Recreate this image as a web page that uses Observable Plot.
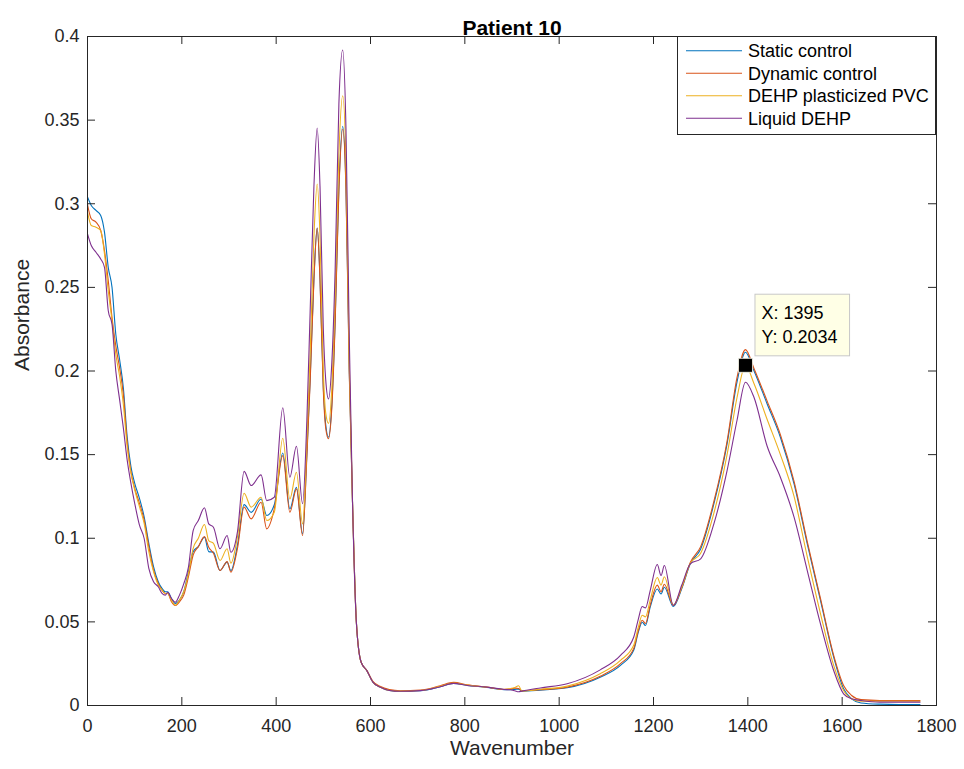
<!DOCTYPE html>
<html>
<head>
<meta charset="utf-8">
<script src="https://cdn.jsdelivr.net/npm/d3@7"></script>
<script src="https://cdn.jsdelivr.net/npm/@observablehq/plot@0.6"></script>
<style>
  body { margin: 0; background: #fff; }
  #wrap { position: relative; width: 964px; height: 769px; }
</style>
</head>
<body>
<div id="wrap"></div>
<script>
const FONT = '"Liberation Sans", Arial, Helvetica, sans-serif';

const title = "Patient 10";
const xLabel = "Wavenumber";
const yLabel = "Absorbance";
const seriesNames = ["Static control", "Dynamic control", "DEHP plasticized PVC", "Liquid DEHP"];
const seriesColors = ["#0072BD", "#D95319", "#EDB120", "#7E2F8E"];
const xTicks = [0, 200, 400, 600, 800, 1000, 1200, 1400, 1600, 1800];
const yTicks = [0, 0.05, 0.1, 0.15, 0.2, 0.25, 0.3, 0.35, 0.4];
const tipX = [1395];
const tipY = [0.2034];

const wavenumber = [0, 8, 18, 28, 36, 44, 52, 60, 68, 76,
  84, 92, 100, 110, 120, 130, 140, 150, 158, 165,
  170, 178, 186, 195, 204, 214, 224, 235, 248, 257,
  267, 281, 296, 304, 318, 332, 347, 368, 380, 396,
  414, 429, 443, 456, 465, 472, 480, 487, 493, 500,
  505, 511, 518, 525, 533, 541, 548, 555, 562, 570,
  580, 592, 605, 620, 640, 663, 706, 748, 776, 805,
  847, 883, 897, 906, 914, 921, 960, 1017, 1087, 1130,
  1158, 1168, 1176, 1183, 1193, 1208, 1216, 1223, 1242, 1260,
  1278, 1300, 1328, 1356, 1377, 1395, 1413, 1441, 1469, 1498,
  1526, 1554, 1582, 1603, 1620, 1640, 1680, 1720, 1765];

const staticControl = [0.304, 0.299, 0.296, 0.293, 0.283, 0.262, 0.250, 0.222, 0.207, 0.190,
  0.161, 0.143, 0.133, 0.124, 0.113, 0.097, 0.083, 0.074, 0.070, 0.068,
  0.068, 0.064, 0.061, 0.063, 0.068, 0.080, 0.092, 0.095, 0.1006, 0.092,
  0.0917, 0.0807, 0.0857, 0.0807, 0.096, 0.1201, 0.1155, 0.1235, 0.1136, 0.120,
  0.151, 0.1176, 0.1305, 0.1026, 0.150, 0.195, 0.255, 0.2855, 0.255, 0.19,
  0.168, 0.1604, 0.18, 0.23, 0.31, 0.3463, 0.31, 0.20, 0.12, 0.05,
  0.026, 0.021, 0.014, 0.011, 0.009, 0.0085, 0.0088, 0.0112, 0.0132, 0.012,
  0.0108, 0.0095, 0.0094, 0.0096, 0.0098, 0.0086, 0.0092, 0.0106, 0.0169, 0.024,
  0.033, 0.044, 0.0498, 0.0478, 0.0588, 0.0697, 0.0667, 0.0707, 0.0592, 0.070,
  0.0847, 0.0936, 0.1205, 0.1564, 0.1933, 0.2112, 0.2002, 0.1803, 0.1604, 0.1325,
  0.0967, 0.0628, 0.0289, 0.010, 0.004, 0.0015, 0.0008, 0.0006, 0.0006];

const dynamicControl = [0.2995, 0.291, 0.289, 0.284, 0.272, 0.254, 0.232, 0.215, 0.202, 0.186,
  0.158, 0.140, 0.130, 0.121, 0.111, 0.095, 0.081, 0.073, 0.069, 0.067,
  0.067, 0.062, 0.0598, 0.062, 0.066, 0.077, 0.090, 0.095, 0.101, 0.0946,
  0.091, 0.0807, 0.086, 0.0797, 0.094, 0.1186, 0.1116, 0.1215, 0.1056, 0.1175,
  0.1494, 0.1156, 0.1295, 0.1016, 0.148, 0.193, 0.254, 0.2855, 0.254, 0.188,
  0.166, 0.1595, 0.178, 0.228, 0.308, 0.3447, 0.308, 0.198, 0.12, 0.05,
  0.026, 0.021, 0.0145, 0.0115, 0.0095, 0.0088, 0.0092, 0.0118, 0.0138, 0.0124,
  0.011, 0.0097, 0.0098, 0.0104, 0.0102, 0.0088, 0.0094, 0.011, 0.0175, 0.025,
  0.034, 0.045, 0.051, 0.049, 0.060, 0.072, 0.068, 0.0725, 0.0598, 0.0705,
  0.0855, 0.095, 0.122, 0.158, 0.196, 0.2128, 0.2015, 0.182, 0.162, 0.134,
  0.098, 0.064, 0.030, 0.012, 0.006, 0.0035, 0.003, 0.003, 0.003];

const dehpPVC = [0.295, 0.287, 0.286, 0.284, 0.270, 0.248, 0.230, 0.210, 0.197, 0.180,
  0.155, 0.139, 0.129, 0.119, 0.109, 0.092, 0.080, 0.072, 0.069, 0.067,
  0.067, 0.063, 0.060, 0.063, 0.068, 0.079, 0.094, 0.100, 0.1082, 0.0986,
  0.097, 0.0867, 0.0937, 0.0851, 0.101, 0.1269, 0.1186, 0.1245, 0.1106, 0.1156,
  0.1598, 0.1235, 0.1395, 0.1086, 0.158, 0.21, 0.28, 0.3118, 0.28, 0.20,
  0.175, 0.1687, 0.19, 0.245, 0.33, 0.3646, 0.325, 0.205, 0.12, 0.05,
  0.026, 0.021, 0.014, 0.011, 0.009, 0.0086, 0.009, 0.0115, 0.0134, 0.0122,
  0.0109, 0.0096, 0.0102, 0.0108, 0.0118, 0.0087, 0.0097, 0.0116, 0.019, 0.027,
  0.036, 0.047, 0.054, 0.053, 0.063, 0.0765, 0.072, 0.077, 0.060, 0.071,
  0.085, 0.091, 0.115, 0.150, 0.184, 0.2034, 0.1925, 0.171, 0.150, 0.125,
  0.089, 0.055, 0.024, 0.009, 0.004, 0.0025, 0.0025, 0.0025, 0.0025];

const liquidDEHP = [0.282, 0.275, 0.271, 0.267, 0.262, 0.236, 0.228, 0.200, 0.183, 0.166,
  0.147, 0.133, 0.121, 0.108, 0.100, 0.082, 0.074, 0.071, 0.067, 0.066,
  0.0677, 0.064, 0.0617, 0.066, 0.0727, 0.0827, 0.1046, 0.1106, 0.1182, 0.1086,
  0.1066, 0.0937, 0.1016, 0.0916, 0.104, 0.140, 0.1315, 0.1379, 0.1225, 0.1245,
  0.178, 0.1365, 0.155, 0.1206, 0.17, 0.235, 0.31, 0.3453, 0.31, 0.225,
  0.195, 0.1833, 0.205, 0.26, 0.36, 0.3919, 0.345, 0.22, 0.12, 0.05,
  0.026, 0.021, 0.014, 0.011, 0.009, 0.0085, 0.0089, 0.0112, 0.0132, 0.012,
  0.011, 0.0096, 0.0094, 0.0088, 0.0082, 0.0086, 0.0105, 0.013, 0.0213, 0.030,
  0.0408, 0.0518, 0.0592, 0.0584, 0.0687, 0.0843, 0.0777, 0.0837, 0.0598, 0.072,
  0.0847, 0.0877, 0.1086, 0.1405, 0.1704, 0.1933, 0.1843, 0.155, 0.1365, 0.1126,
  0.0807, 0.0488, 0.0209, 0.007, 0.004, 0.003, 0.002, 0.002, 0.002];

const seriesValues = [staticControl, dynamicControl, dehpPVC, liquidDEHP];
const rows = [];
seriesNames.forEach((name, s) => {
  wavenumber.forEach((x, i) => rows.push({series: name, wavenumber: x, absorbance: seriesValues[s][i]}));
});
const tipData = tipX.map((x, i) => ({x, y: tipY[i]}));

const W = 964, H = 769, ML = 87, MR = 28, MT = 36, MB = 64;
const IW = W - ML - MR, IH = H - MT - MB;
const TICK = 8;
const AX = "#262626";
const yFmt = d => d3.format("~g")(d);

const chart = Plot.plot({
  width: W, height: H,
  marginLeft: ML, marginRight: MR, marginTop: MT, marginBottom: MB,
  style: {fontFamily: FONT, fontSize: "18px", color: AX, background: "#fff"},
  x: {domain: [0, 1800]},
  y: {domain: [0, 0.4]},
  color: {domain: seriesNames, range: seriesColors},
  marks: [
    Plot.line(rows, {x: "wavenumber", y: "absorbance", z: "series", stroke: "series", curve: "monotone-x", strokeWidth: 1.1}),
    Plot.frame({stroke: AX, strokeWidth: 1}),
    Plot.ruleX(xTicks, {x: d => d, insetTop: IH - TICK, stroke: AX}),
    Plot.ruleX(xTicks, {x: d => d, insetBottom: IH - TICK, stroke: AX}),
    Plot.ruleY(yTicks, {y: d => d, insetRight: IW - TICK, stroke: AX}),
    Plot.ruleY(yTicks, {y: d => d, insetLeft: IW - TICK, stroke: AX}),
    Plot.axisX(xTicks, {tickSize: 0, tickPadding: 14, label: null, tickFormat: d => String(d), fontSize: 18, fill: AX}),
    Plot.axisY(yTicks, {tickSize: 0, tickPadding: 8, label: null, tickFormat: yFmt, fontSize: 18, fill: AX}),
    Plot.text([title], {frameAnchor: "top", dy: -16, fontWeight: "bold", fontSize: 21, fill: "#000"}),
    Plot.text([xLabel], {frameAnchor: "bottom", dy: 49, fontSize: 21, fill: AX}),
    Plot.text([yLabel], {frameAnchor: "left", dx: -65, rotate: -90, fontSize: 21, fill: AX}),
    Plot.dot(tipData, {x: "x", y: "y", symbol: "square", r: 7.9, fill: "#000", stroke: "#fffff0", strokeWidth: 0.8}),
    Plot.text(tipData, {x: "x", y: "y", text: d => `X: ${d.x}\nY: ${d.y}`, textAnchor: "start", lineAnchor: "bottom",
      lineHeight: 1.367, dx: 16, dy: -22, fontSize: 18, fill: "#000", className: "datatip-text"})
  ]
});

document.getElementById("wrap").appendChild(chart);

// datatip box behind the text
const svg = d3.select(chart);
const tipG = svg.select("g.datatip-text");
if (!tipG.empty()) {
  const bb = tipG.node().getBBox();
  const t = tipG.attr("transform");
  svg.insert("rect", "g.datatip-text")
    .attr("x", bb.x - 6.5).attr("y", bb.y - 8.5)
    .attr("width", bb.width + 18.5).attr("height", bb.height + 17)
    .attr("transform", t)
    .attr("fill", "#ffffe6").attr("stroke", "#c8c8c8").attr("stroke-width", 1);
}

// legend (inside the axes, top right, as MATLAB draws it)
const lx = W - MR - 259, ly = MT, lw = 258, lh = 98;
const lg = svg.append("g").attr("font-family", FONT).attr("font-size", 18).attr("text-anchor", "start");
lg.append("rect").attr("x", lx + 0.5).attr("y", ly + 0.5).attr("width", lw).attr("height", lh)
  .attr("fill", "#fff").attr("stroke", AX).attr("stroke-width", 1);
seriesNames.forEach((name, i) => {
  const cy = ly + 14.7 + i * 22.5;
  lg.append("line").attr("x1", lx + 9).attr("x2", lx + 65).attr("y1", cy).attr("y2", cy)
    .attr("stroke", seriesColors[i]).attr("stroke-width", 1.1);
  lg.append("text").attr("x", lx + 71).attr("y", cy).attr("dy", "0.35em").attr("text-anchor", "start")
    .attr("fill", "#000").text(name);
});
</script>
</body>
</html>
